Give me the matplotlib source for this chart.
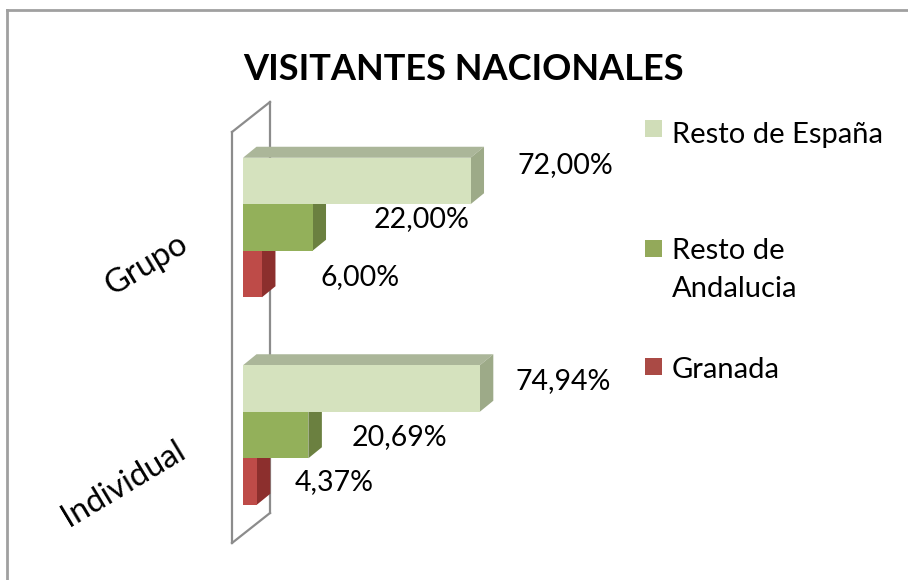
import matplotlib
matplotlib.use('Agg')
import matplotlib.pyplot as plt
from matplotlib.patches import Polygon, Rectangle
from matplotlib.lines import Line2D

# ---------------- data ----------------
categories = ['Individual', 'Grupo']
series_names = ['Resto de España', 'Resto de\nAndalucia', 'Granada']
resto_espana = [74.94, 72.00]
resto_andalucia = [20.69, 22.00]
granada = [4.37, 6.00]

# ---------------- style ----------------
FONT = 'Lato'
W, H = 908, 580
front_colors = ['#D5E2BE', '#93B05A', '#BE4B48']
top_colors = ['#ABB699', '#7A9348', '#9A3633']
side_colors = ['#9DAA88', '#6B8040', '#8C2F2D']
legend_colors = ['#D0DDB8', '#93A95A', '#AA4A45']

fig = plt.figure(figsize=(W / 100, H / 100), dpi=100)
fig.patch.set_facecolor('white')

# axes geometry (pixels)
x0_px, px_per_pct = 243, 3.16
unit_px = 207.5           # distance between categories
cat0_px = 435             # pixel row of the first category centre
ax_top_px, ax_bot_px = 90, 560
ax = fig.add_axes([x0_px / W, (H - ax_bot_px) / H, 100 * px_per_pct / W, (ax_bot_px - ax_top_px) / H])
ax.set_xlim(0, 100)
ax.set_ylim(-(ax_bot_px - cat0_px) / unit_px, (cat0_px - ax_top_px) / unit_px)
ax.axis('off')

bar_h = 46.5 / unit_px
dx = 13.5 / px_per_pct
dy = 11 / unit_px

# side wall (frame)
wx_f, wx_b = -11 / px_per_pct, 27 / px_per_pct
wy = lambda p: (cat0_px - p) / unit_px
wall_col = '#8C8C8C'
for xs, ys in [([wx_f, wx_f], [wy(543), wy(132)]),
               ([wx_b, wx_b], [wy(513), wy(102)]),
               ([wx_f, wx_b], [wy(132), wy(102)]),
               ([wx_f, wx_b], [wy(543), wy(513)])]:
    ax.add_line(Line2D(xs, ys, color=wall_col, lw=1.6, zorder=1, clip_on=False))

series = [resto_espana, resto_andalucia, granada]
offsets = [bar_h, 0.0, -bar_h]
label_offsets = [
    [(83, 7.5), (94.5, 16.4)],
    [(90.6, -2.5), (109.5, 8.5)],
    [(77, -1), (98, -3.4)],
]

z = 2
for si in [2, 1, 0]:
    vals = series[si]
    for ci, v in enumerate(vals):
        yc = ci + offsets[si]
        yb, yt = yc - bar_h / 2, yc + bar_h / 2
        ax.barh(yc, v, height=bar_h, left=0, color=front_colors[si], edgecolor='none', zorder=z + 0.2)
        top = Polygon([(0, yt), (v, yt), (v + dx, yt + dy), (dx, yt + dy)], closed=True,
                      facecolor=top_colors[si], edgecolor='none', zorder=z)
        side = Polygon([(v, yb), (v, yt), (v + dx, yt + dy), (v + dx, yb + dy)], closed=True,
                       facecolor=side_colors[si], edgecolor='none', zorder=z + 0.1)
        ax.add_patch(top)
        ax.add_patch(side)
        ox, oy = label_offsets[si][ci]
        ax.annotate(f"{v:.2f}%".replace('.', ','), xy=(v, yc), xytext=(ox, oy),
                    textcoords='offset pixels', ha='center', va='center',
                    fontsize=20.5, family=FONT, color='black', zorder=10)
    z += 1

# category labels
cat_offsets = [(-119, -49), (-96, -37.5)]
for ci, name in enumerate(categories):
    ax.annotate(name, xy=(0, ci), xytext=cat_offsets[ci], textcoords='offset pixels',
                ha='center', va='center', rotation=31, rotation_mode='anchor',
                fontsize=23.5, family=FONT, color='black')

# title
fig.text(463.5 / W, 1 - 80 / H, 'VISITANTES NACIONALES', ha='center', va='baseline',
         fontsize=26, fontweight='bold', family=FONT, color='black')

# legend (manual)
sq_centres = [129, 248, 366]
baselines = [143, 259.3, 378]
line_gap = 37.4
for i, name in enumerate(series_names):
    fig.add_artist(Rectangle((645 / W, 1 - (sq_centres[i] + 8.5) / H), 17 / W, 17 / H,
                             transform=fig.transFigure, facecolor=legend_colors[i], edgecolor='none'))
    for li, line in enumerate(name.split('\n')):
        fig.text(672 / W, 1 - (baselines[i] + li * line_gap) / H, line, ha='left', va='baseline',
                 fontsize=21, family=FONT, color='black')

# outer border (top and left visible)
fig.add_artist(Line2D([7 / W, 1.0], [1 - 10 / H, 1 - 10 / H], transform=fig.transFigure, color='#A0A0A0', lw=2))
fig.add_artist(Line2D([7 / W, 7 / W], [0, 1 - 10 / H], transform=fig.transFigure, color='#A0A0A0', lw=2))

fig.savefig('out.png', dpi=100, facecolor='white')
